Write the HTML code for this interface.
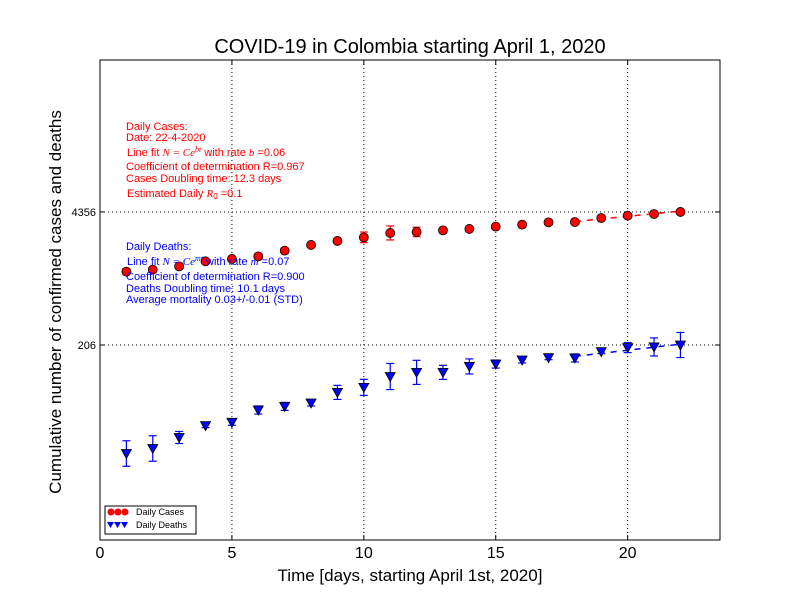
<!DOCTYPE html>
<html><head><meta charset="utf-8"><style>
body{margin:0;background:#fff;}
svg{display:block;font-family:"Liberation Sans",sans-serif;}
</style></head><body>
<svg id="c" width="800" height="600" xmlns="http://www.w3.org/2000/svg">
<rect width="800" height="600" fill="#fff"/>
<text x="410" y="53" font-size="20" text-anchor="middle">COVID-19 in Colombia starting April 1, 2020</text>
<text x="410" y="581" font-size="17" text-anchor="middle">Time [days, starting April 1st, 2020]</text>
<text transform="translate(61,302) rotate(-90)" font-size="17" text-anchor="middle">Cumulative number of confirmed cases and deaths</text>
<g id="grid"></g>
<g id="marks"></g>
<g font-size="11" fill="#f00">
<text x="126" y="130">Daily Cases:</text>
<text x="126" y="141">Date: 22-4-2020</text>
<text x="127" y="156">Line fit <tspan font-family="Liberation Serif" font-style="italic">N = Ce<tspan dy="-4" font-size="8">bt</tspan></tspan><tspan dy="4"> with rate </tspan><tspan font-family="Liberation Serif" font-style="italic">b</tspan> =0.06</text>
<text x="126" y="170">Coefficient of determination R=0.967</text>
<text x="126" y="182">Cases Doubling time: 12.3 days</text>
<text x="127" y="197">Estimated Daily <tspan font-family="Liberation Serif" font-style="italic">R</tspan><tspan font-size="8" dy="2">0</tspan><tspan dy="-2"> =0.1</tspan></text>
</g>
<g font-size="11" fill="#00f">
<text x="126" y="250">Daily Deaths:</text>
<text x="127" y="265">Line fit <tspan font-family="Liberation Serif" font-style="italic">N = Ce<tspan dy="-4" font-size="8">mt</tspan></tspan><tspan dy="4"> with rate </tspan><tspan font-family="Liberation Serif" font-style="italic">m</tspan> =0.07</text>
<text x="126" y="280">Coefficient of determination R=0.900</text>
<text x="126" y="292">Deaths Doubling time: 10.1 days</text>
<text x="126" y="303">Average mortality 0.03+/-0.01 (STD)</text>
</g>
<g>
<rect x="105" y="506" width="91" height="28" fill="#fff" stroke="#000" stroke-width="1"/>
<circle cx="111" cy="512" r="3.5" fill="#f00"/><circle cx="118" cy="512" r="3.5" fill="#f00"/><circle cx="125" cy="512" r="3.5" fill="#f00"/>
<text x="136" y="515" font-size="9">Daily Cases</text>
<path d="M107,522h7l-3.5,6zM114,522h7l-3.5,6zM121,522h7l-3.5,6z" fill="#00f"/>
<text x="136" y="528" font-size="9">Daily Deaths</text>
</g>
</svg>
<script>
const days=[1,2,3,4,5,6,7,8,9,10,11,12,13,14,15,16,17,18,19,20,21,22];
const cases=[1107,1160,1250,1404,1482,1573,1795,2043,2240,2432,2691,2754,2856,2950,3111,3258,3431,3460,3792,3999,4159,4356];
const caseErr=[0.03,0,0,0,0,0,0,0,0,0.053,0.07,0.047,0.01,0,0,0,0,0,0.02,0.02,0.02,0.02];
const deaths=[17.1,19.2,24.7,32.4,35,46.4,50.4,54.5,69.5,78,100,110,110,126,133,146,154,153,177,194,197,206];
const deathErr=[0.127,0.127,0.06,0.02,0.03,0.04,0.04,0.03,0.07,0.08,0.13,0.12,0.07,0.075,0.04,0.03,0.02,0.04,0.02,0.05,0.09,0.125];
const xTicks=[0,5,10,15,20];
const yTicks=[206,4356];
const fitRange=[18,22];
const caseRate=0.06, deathRate=0.07;
const L=100,R=720,T=60,B=540;
const xs=v=>L+(v/23.5)*(R-L);
const ys=v=>345-(Math.log10(v)-Math.log10(206))*100.4;
const NS="http://www.w3.org/2000/svg";
function mk(tag,attrs,parent){const e=document.createElementNS(NS,tag);for(const k in attrs)e.setAttribute(k,attrs[k]);parent.appendChild(e);return e;}
const svg=document.getElementById('c'),grid=document.getElementById('grid'),marks=document.getElementById('marks');
xTicks.forEach(t=>{const x=xs(t);
 if(t>0){const g=mk('line',{x1:x,x2:x,y1:T,y2:B,stroke:'#000','stroke-dasharray':'1,3','stroke-width':1},grid);
 
 }
 mk('line',{x1:x,x2:x,y1:B,y2:B-5,stroke:'#000'},grid);mk('line',{x1:x,x2:x,y1:T,y2:T+5,stroke:'#000'},grid);
 const tx=mk('text',{x:x,y:B+18,'font-size':16,'text-anchor':'middle'},grid);tx.textContent=t;
 
 
});
yTicks.forEach(t=>{const y=ys(t);
 const g=mk('line',{x1:L,x2:R,y1:y,y2:y,stroke:'#000','stroke-dasharray':'1,3','stroke-width':1},grid);
 
 
 mk('line',{x1:L,x2:L+5,y1:y,y2:y,stroke:'#000'},grid);mk('line',{x1:R,x2:R-5,y1:y,y2:y,stroke:'#000'},grid);
 const tx=mk('text',{x:L-4,y:y+4,'font-size':11,'text-anchor':'end'},grid);tx.textContent=t;
 
 
});
const frame=mk('rect',{x:L,y:T,width:R-L,height:B-T,fill:'none',stroke:'#000','stroke-width':1},grid);


function fit(vals,rate,color,name){const last=vals[vals.length-1];
 const p=fitRange.map(d=>xs(d)+','+ys(last*1.02*Math.exp(rate*(d-22)))).join(' ');
 const l=mk('polyline',{points:p,fill:'none',stroke:color,'stroke-width':1.5,'stroke-dasharray':'6,6'},marks);
 
 }
fit(cases,caseRate,'#f00','cases-fit-line');
fit(deaths,deathRate,'#00f','deaths-fit-line');
function err(x,v,e,color){if(e<=0)return;const y1=ys(v)-e*100.4,y2=ys(v)+e*100.4;
 mk('line',{x1:x,x2:x,y1:y1,y2:y2,stroke:color,'stroke-width':1.2},marks);
 mk('line',{x1:x-4,x2:x+4,y1:y1,y2:y1,stroke:color,'stroke-width':1.2},marks);
 mk('line',{x1:x-4,x2:x+4,y1:y2,y2:y2,stroke:color,'stroke-width':1.2},marks);}
days.forEach((d,i)=>{const x=xs(d);
 err(x,cases[i],caseErr[i],'#f00');
 const c=mk('circle',{cx:x,cy:ys(cases[i]),r:4.5,fill:'#f00',stroke:'#000','stroke-width':0.8},marks);
 
 
 err(x,deaths[i],deathErr[i],'#00f');
 const y=ys(deaths[i]);
 const t=mk('path',{d:`M${x-5},${y-4}h10l-5,9z`,fill:'#00f',stroke:'#000','stroke-width':0.8},marks);
 
 
});
</script>
</body></html>
